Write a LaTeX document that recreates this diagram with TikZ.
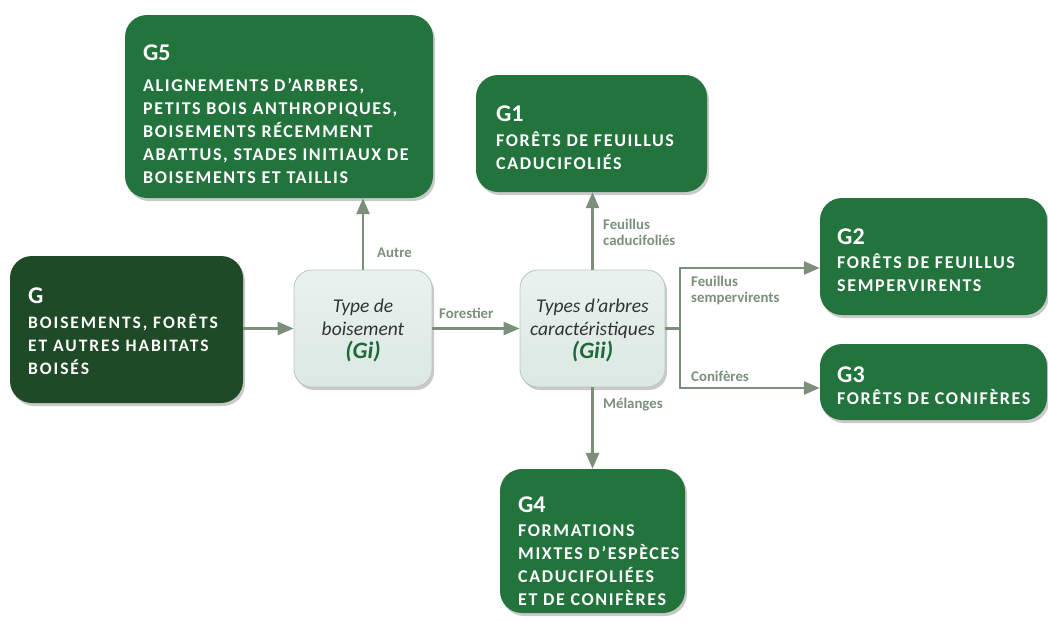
\documentclass[tikz,border=0pt]{standalone}
\usepackage{fontspec}
\setmainfont{Carlito}
\newfontfamily\boxfont[LetterSpace=9]{Carlito}
\newfontfamily\gboxfont[LetterSpace=11]{Carlito}
\newfontfamily\titlefont{Carlito}
\usetikzlibrary{arrows.meta,shadows}
\definecolor{dkgreen}{HTML}{1E4A27}
\definecolor{mgreen}{HTML}{23733D}
\definecolor{arr}{HTML}{7B8F7B}
\definecolor{lboxtop}{HTML}{E8F2EE}
\definecolor{lboxbot}{HTML}{DCE8E3}
\definecolor{lborder}{HTML}{B9C6BF}
\definecolor{gtext}{HTML}{1C6A3A}
\definecolor{itext}{HTML}{333333}
\begin{document}
\begin{tikzpicture}[x=1pt,y=-1pt,
  shadowed/.style={drop shadow={shadow xshift=2pt,shadow yshift=-3pt,opacity=0.3,fill=black!70}},
  gbox/.style={fill=mgreen,rounded corners=22pt,inner sep=0pt,shadowed},
  lbox/.style={top color=lboxtop,bottom color=lboxbot,draw=lborder,line width=0.8pt,rounded corners=18pt,inner sep=0pt,shadowed},
  boxtext/.style={anchor=north west,inner sep=0pt,align=left,text=white,
    font=\boxfont\fontsize{18}{23}\selectfont\bfseries},
  itxt/.style={inner sep=0pt,align=center,text=itext,font=\fontsize{19.5}{23}\selectfont\itshape},
  lbl/.style={anchor=west,inner sep=0pt,align=left,text=arr,font=\fontsize{14.8}{16}\selectfont\bfseries},
  line/.style={draw=arr,line width=2.6pt},
  arrow/.style={line,-{Triangle[length=16pt,width=13pt]}}
]
\useasboundingbox (0,0) rectangle (1048,621);
\newcommand{\ttlG}[2][2pt]{{\titlefont\fontsize{24}{23}\selectfont\bfseries #2}\\[#1]}
\newcommand{\gival}[1]{{\fontsize{23.5}{23}\selectfont\bfseries\color{gtext}#1}}

% boxes
\node[gbox,fill=dkgreen,minimum width=233pt,minimum height=147pt] (g) at (126.5,329.5) {};
\node[gbox,minimum width=308pt,minimum height=183pt] (g5) at (279,106.5) {};
\node[gbox,minimum width=231pt,minimum height=117pt] (g1) at (591.5,133.5) {};
\node[gbox,minimum width=227pt,minimum height=117pt] (g2) at (933.5,256.5) {};
\node[gbox,minimum width=227pt,minimum height=76pt] (g3) at (933.5,382) {};
\node[gbox,minimum width=185pt,minimum height=144pt] (g4) at (592.5,541) {};
\node[lbox,minimum width=138pt,minimum height=117pt] (gi) at (363,328.5) {};
\node[lbox,minimum width=145pt,minimum height=117pt] (gii) at (592.5,328.5) {};

% box texts
\node[boxtext,font=\gboxfont\fontsize{17.5}{23}\selectfont\bfseries] (gt) at (28,288) {\ttlG{G}BOISEMENTS, FORÊTS\\ET AUTRES HABITATS\\BOISÉS};
\node[boxtext] (g5t) at (143,45) {\ttlG[8pt]{G5}ALIGNEMENTS D’ARBRES,\\PETITS BOIS ANTHROPIQUES,\\BOISEMENTS RÉCEMMENT\\ABATTUS, STADES INITIAUX DE\\BOISEMENTS ET TAILLIS};
\node[boxtext] (g1t) at (496,106) {\ttlG{G1}FORÊTS DE FEUILLUS\\CADUCIFOLIÉS};
\node[boxtext] (g2t) at (837,229) {\ttlG[1pt]{G2}FORÊTS DE FEUILLUS\\SEMPERVIRENTS};
\node[boxtext] (g3t) at (837,367) {\ttlG[-1pt]{G3}FORÊTS DE CONIFÈRES};
\node[boxtext] (g4t) at (518,497) {\ttlG[1pt]{G4}FORMATIONS\\MIXTES D’ESPÈCES\\CADUCIFOLIÉES\\ET DE CONIFÈRES};

\node[itxt] (git) at (363,330) {Type de\\boisement\\\gival{(Gi)}};
\node[itxt] (giit) at (592.5,330) {Types d’arbres\\caractéristiques\\\gival{(Gii)}};

% connectors
\draw[arrow] (g.east|-gi.west) -- (gi.west);
\draw[arrow] (gi.north) -- (gi.north|-g5.south);
\draw[arrow] (gi.east) -- (gii.west);
\draw[arrow] (gii.north) -- (gii.north|-g1.south);
\draw[arrow] (gii.south) -- (gii.south|-g4.north);
\coordinate (bx) at (680,328.5);
\coordinate (b2) at (680,268);
\coordinate (b3) at (680,388);
\draw[line] (gii.east) -- (bx);
\draw[arrow] (bx) -- (b2) -- (b2-|g2.west);
\draw[arrow] (bx) -- (b3) -- (b3-|g3.west);

% labels
\node[lbl] (lautre) at (377,253) {Autre};
\node[lbl] (lfor) at (439,313) {Forestier};
\node[lbl] (lcad) at (603,232) {Feuillus\\caducifoliés};
\node[lbl] (lsem) at (691,290) {Feuillus\\sempervirents};
\node[lbl] (lcon) at (691,376) {Conifères};
\node[lbl] (lmel) at (603,405) {Mélanges};
\end{tikzpicture}
\end{document}
